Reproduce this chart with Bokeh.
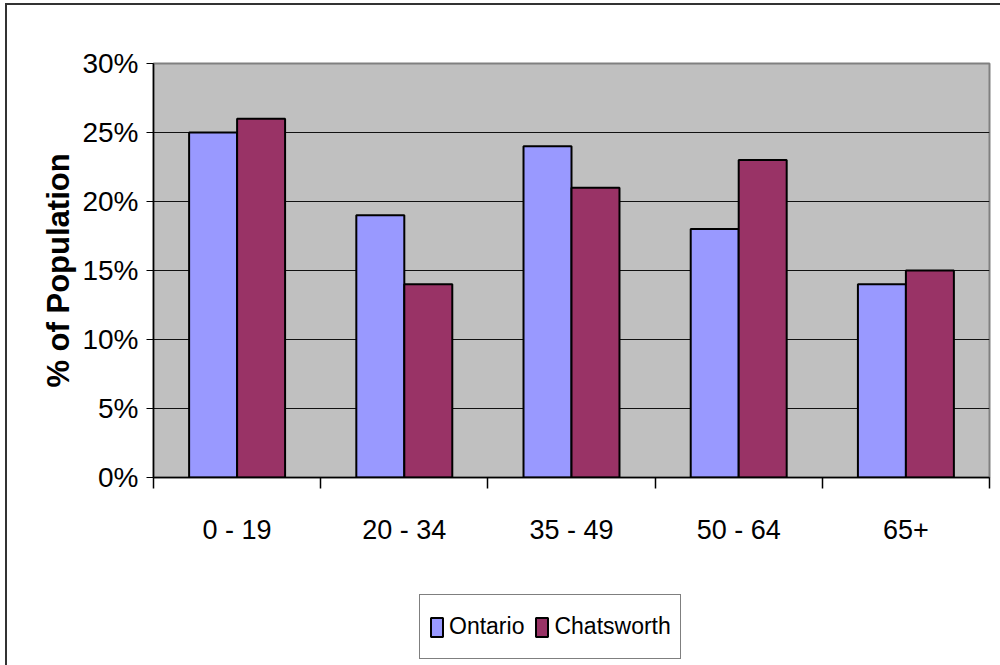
from bokeh.plotting import figure
from bokeh.layouts import column
from bokeh.models import (Range1d, FixedTicker, NumeralTickFormatter, Legend,
                          LegendItem, ColumnDataSource)
from bokeh.transform import dodge
from bokeh.embed import file_html
from bokeh.resources import INLINE

# ---- data ----
categories = ["0 - 19", "20 - 34", "35 - 49", "50 - 64", "65+"]
ontario = [0.25, 0.19, 0.24, 0.18, 0.14]
chatsworth = [0.26, 0.14, 0.21, 0.23, 0.15]
series_names = ["Ontario", "Chatsworth"]
series_colors = ["#9999FF", "#993366"]
y_ticks = [0.0, 0.05, 0.10, 0.15, 0.20, 0.25, 0.30]

FONT = "Liberation Sans"
n = len(categories)
centers = [i + 0.5 for i in range(n)]
bar_w = 0.287

src = ColumnDataSource(dict(center=centers, ontario=ontario,
                            chatsworth=chatsworth, cat=categories))

p = figure(width=1000, height=585, output_backend="svg", toolbar_location=None,
           x_range=Range1d(0, n), y_range=Range1d(0, y_ticks[-1]),
           min_border_left=153, min_border_right=11, min_border_top=63,
           min_border_bottom=108)

p.background_fill_color = "#C0C0C0"
p.border_fill_color = None
p.outline_line_color = "#808080"
p.outline_line_width = 2

bar_style = dict(line_color="black", line_width=2)


def add_bars(fig):
    ra = fig.vbar(x=dodge("center", -bar_w / 2, range=fig.x_range), top="ontario",
                  width=bar_w, source=src, fill_color=series_colors[0], **bar_style)
    rb = fig.vbar(x=dodge("center", bar_w / 2, range=fig.x_range), top="chatsworth",
                  width=bar_w, source=src, fill_color=series_colors[1], **bar_style)
    return ra, rb


add_bars(p)

# grid
p.xgrid.visible = False
p.ygrid.ticker = FixedTicker(ticks=y_ticks[1:-1])
p.ygrid.grid_line_color = "#111111"
p.ygrid.grid_line_width = 1

# y axis
p.yaxis.ticker = FixedTicker(ticks=y_ticks)
p.yaxis.formatter = NumeralTickFormatter(format="0%")
p.yaxis.axis_line_color = "black"
p.yaxis.axis_line_width = 1.5
p.yaxis.major_tick_out = 7
p.yaxis.major_tick_in = 0
p.yaxis.minor_tick_line_color = None
p.yaxis.major_label_text_font = FONT
p.yaxis.major_label_text_font_size = "28px"
p.yaxis.major_label_text_color = "black"
p.yaxis.major_label_standoff = 8
p.yaxis.axis_label = "% of Population"
p.yaxis.axis_label_text_font = FONT
p.yaxis.axis_label_text_font_style = "bold"
p.yaxis.axis_label_text_font_size = "31px"
p.yaxis.axis_label_text_color = "black"
p.yaxis.axis_label_standoff = 3

# x axis: labels at centres, tick marks at category boundaries
p.xaxis.ticker = FixedTicker(ticks=centers, minor_ticks=list(range(n + 1)))
p.xaxis.major_label_overrides = {c: lab for c, lab in zip(centers, categories)}
p.xaxis.axis_line_color = "black"
p.xaxis.axis_line_width = 1.5
p.xaxis.major_tick_out = 0
p.xaxis.major_tick_in = 0
p.xaxis.major_tick_line_color = None
p.xaxis.minor_tick_out = 11
p.xaxis.minor_tick_in = 0
p.xaxis.minor_tick_line_color = "black"
p.xaxis.minor_tick_line_width = 1.5
p.xaxis.major_label_text_font = FONT
p.xaxis.major_label_text_font_size = "27px"
p.xaxis.major_label_text_color = "black"
p.xaxis.major_label_standoff = 26

# ---- legend strip below the chart (its renderers are hidden, only the key shows) ----
pl = figure(width=1000, height=80, output_backend="svg", toolbar_location=None,
            x_range=Range1d(0, n), y_range=Range1d(10, 11),
            min_border_left=0, min_border_right=0, min_border_top=0,
            min_border_bottom=0, x_axis_type=None, y_axis_type=None)
pl.grid.visible = False
pl.outline_line_color = None
pl.background_fill_color = None
pl.border_fill_color = None
lr1, lr2 = add_bars(pl)
lr1.visible = False
lr2.visible = False

legend = Legend(items=[LegendItem(label=series_names[0], renderers=[lr1], index=0),
                       LegendItem(label=series_names[1], renderers=[lr2], index=0)],
                orientation="horizontal", location=(266, 6))
legend.border_line_color = "black"
legend.border_line_width = 1.5
legend.background_fill_color = "white"
legend.background_fill_alpha = 1
legend.inactive_fill_alpha = 0
legend.glyph_width = 15
legend.glyph_height = 24
legend.label_standoff = 5
legend.spacing = 10
legend.padding = 9
legend.margin = 0
legend.label_height = 45
legend.label_text_font = FONT
legend.label_text_font_size = "23px"
legend.label_text_color = "black"
pl.add_layout(legend)

layout = column(p, pl, spacing=0)
layout.styles = {"box-shadow": "inset 5px 3px 0 0 #ffffff, inset 7px 5px 0 0 #333333"}

open("out.html", "w").write(file_html(layout, INLINE))
